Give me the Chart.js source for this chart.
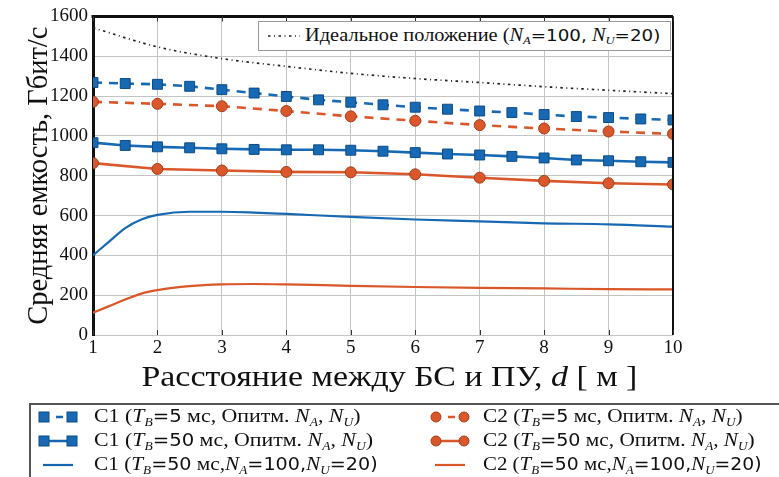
<!DOCTYPE html>
<html>
<head>
<meta charset="utf-8">
<script src="https://cdn.jsdelivr.net/npm/chart.js@4/dist/chart.umd.min.js"></script>
<style>
  html, body { margin: 0; padding: 0; background: #fff; }
  #wrap { position: relative; width: 779px; height: 477px; overflow: hidden; }
  #chart { position: absolute; left: 0; top: 0; }
  .legend { position: absolute; background: #fff; font-family: "Liberation Serif", "DejaVu Serif", serif; color: #111; }
  .row { position: absolute; white-space: nowrap; display: flex; align-items: center; }
  .row svg { flex: none; }
  .txt { display: inline-block; transform-origin: 0 50%; }
  .m { font-style: italic; }
  .m sub { font-size: 0.62em; vertical-align: -0.3em; }
  .n { font-family: "DejaVu Sans", sans-serif; font-size: 0.9em; }
  #topLegend { left: 258px; top: 21px; width: 411px; height: 28px; border: 1px solid #9a9a9a; font-size: 18px; }
  #bottomLegend { left: 29px; top: 403px; width: 800px; height: 100px; border-left: 2px solid #555; border-top: 2px solid #555; font-size: 19px; }
  #xTitle { position: absolute; left: 0; width: 779px; top: 359px; text-align: center; font-family: "Liberation Serif", serif; font-size: 30px; color: #111; white-space: nowrap; }
  #xTitle span.t { display: inline-block; transform: scaleX(1.13); }
</style>
</head>
<body>
<div id="wrap">
  <canvas id="chart" width="779" height="477"></canvas>

  <div id="xTitle"><span class="t">Расстояние между БС и ПУ, <i>d</i> [ м ]</span></div>

  <div id="topLegend" class="legend">
    <div class="row" style="left:7px; top:3px;">
      <svg width="36" height="20"><line x1="2" y1="10" x2="34" y2="10" stroke="#222" stroke-width="1.7" stroke-dasharray="2.5 3.5 1 3.5"/></svg>
      <span class="txt" style="margin-left:3px; transform: scaleX(1.13)">Идеальное положение (<span class="m">N<sub>A</sub></span><span class="n">=100,</span> <span class="m">N<sub>U</sub></span><span class="n">=20)</span></span>
    </div>
  </div>

  <div id="bottomLegend" class="legend">
    <div class="row" style="left:6px; top:0px;">
      <svg width="42" height="20"><line x1="6" y1="10" x2="36" y2="10" stroke="#1565b0" stroke-width="2.5" stroke-dasharray="0 13 7 20"/><rect x="2" y="5" width="10" height="10" fill="#1769b3" stroke="#0d4c86" stroke-width="1"/><rect x="30" y="5" width="10" height="10" fill="#1769b3" stroke="#0d4c86" stroke-width="1"/></svg>
      <span class="txt" style="margin-left:15px; transform: scaleX(1.15)">C1 (<span class="m">T<sub>B</sub></span><span class="n">=5</span> мс, Опитм. <span class="m">N<sub>A</sub></span>, <span class="m">N<sub>U</sub></span>)</span>
    </div>
    <div class="row" style="left:6px; top:24px;">
      <svg width="42" height="20"><line x1="6" y1="10" x2="36" y2="10" stroke="#1565b0" stroke-width="2.5"/><rect x="2" y="5" width="10" height="10" fill="#1769b3" stroke="#0d4c86" stroke-width="1"/><rect x="30" y="5" width="10" height="10" fill="#1769b3" stroke="#0d4c86" stroke-width="1"/></svg>
      <span class="txt" style="margin-left:15px; transform: scaleX(1.15)">C1 (<span class="m">T<sub>B</sub></span><span class="n">=50</span> мс, Опитм. <span class="m">N<sub>A</sub></span>, <span class="m">N<sub>U</sub></span>)</span>
    </div>
    <div class="row" style="left:6px; top:48px;">
      <svg width="42" height="20"><line x1="6" y1="10" x2="36" y2="10" stroke="#1565b0" stroke-width="2.2"/></svg>
      <span class="txt" style="margin-left:15px; transform: scaleX(1.12)">C1 (<span class="m">T<sub>B</sub></span><span class="n">=50</span> мс,<span class="m">N<sub>A</sub></span><span class="n">=100,</span><span class="m">N<sub>U</sub></span><span class="n">=20)</span></span>
    </div>
    <div class="row" style="left:398px; top:0px;">
      <svg width="42" height="20"><line x1="6" y1="10" x2="36" y2="10" stroke="#d9572a" stroke-width="2.5" stroke-dasharray="0 13 7 20"/><circle cx="7" cy="10" r="5" fill="#d9572a" stroke="#a63d18" stroke-width="1"/><circle cx="35" cy="10" r="5" fill="#d9572a" stroke="#a63d18" stroke-width="1"/></svg>
      <span class="txt" style="margin-left:12px; transform: scaleX(1.12)">C2 (<span class="m">T<sub>B</sub></span><span class="n">=5</span> мс, Опитм. <span class="m">N<sub>A</sub></span>, <span class="m">N<sub>U</sub></span>)</span>
    </div>
    <div class="row" style="left:398px; top:24px;">
      <svg width="42" height="20"><line x1="6" y1="10" x2="36" y2="10" stroke="#d9572a" stroke-width="2.5"/><circle cx="7" cy="10" r="5" fill="#d9572a" stroke="#a63d18" stroke-width="1"/><circle cx="35" cy="10" r="5" fill="#d9572a" stroke="#a63d18" stroke-width="1"/></svg>
      <span class="txt" style="margin-left:12px; transform: scaleX(1.12)">C2 (<span class="m">T<sub>B</sub></span><span class="n">=50</span> мс, Опитм. <span class="m">N<sub>A</sub></span>, <span class="m">N<sub>U</sub></span>)</span>
    </div>
    <div class="row" style="left:398px; top:48px;">
      <svg width="42" height="20"><line x1="6" y1="10" x2="36" y2="10" stroke="#d9572a" stroke-width="2.2"/></svg>
      <span class="txt" style="margin-left:12px; transform: scaleX(1.1)">C2 (<span class="m">T<sub>B</sub></span><span class="n">=50</span> мс,<span class="m">N<sub>A</sub></span><span class="n">=100,</span><span class="m">N<sub>U</sub></span><span class="n">=20)</span></span>
    </div>
  </div>
</div>

<script>
// Distance between base station and user, metres
const distInt  = [1, 2, 3, 4, 5, 6, 7, 8, 9, 10];
const distHalf = [1, 1.5, 2, 2.5, 3, 3.5, 4, 4.5, 5, 5.5, 6, 6.5, 7, 7.5, 8, 8.5, 9, 9.5, 10];
const distFine = [1, 1.25, 1.5, 1.75, 2, 2.5, 3, 3.5, 4, 5, 6, 7, 8, 9, 10];

// Average capacity, Gbit/s
const idealNA100 = [1543, 1447, 1388, 1349, 1314, 1288, 1268, 1247, 1229, 1212];
const c1Opt5  = [1268, 1263, 1259, 1249, 1232, 1215, 1198, 1181, 1169, 1156, 1144, 1134, 1125, 1117, 1107, 1097, 1092, 1085, 1080];
const c2Opt5  = [1171, 1161, 1149, 1125, 1098, 1076, 1054, 1037, 1022, 1010];
const c1Opt50 = [966, 952, 945, 940, 935, 932, 930, 930, 928, 923, 916, 909, 904, 897, 889, 879, 875, 870, 867];
const c2Opt50 = [863, 834, 826, 819, 817, 807, 790, 774, 762, 756];
const c1Fixed50 = [400, 469, 537, 580, 603, 619, 619, 615, 608, 593, 580, 571, 561, 556, 544];
const c2Fixed50 = [112, 145, 178, 208, 225, 245, 254, 256, 254, 247, 241, 237, 234, 230, 229];

// Axis ticks
const xTicks = [1, 2, 3, 4, 5, 6, 7, 8, 9, 10];
const yTicks = [0, 200, 400, 600, 800, 1000, 1200, 1400, 1600];

const BLUE = '#1769b3', BLUE_EDGE = '#0d4c86';
const RED = '#d9572a', RED_EDGE = '#a63d18';
const SERIF = "'Liberation Serif', 'Times New Roman', serif";

Chart.defaults.font.family = SERIF;

const pts = (xs, ys) => xs.map((x, i) => ({ x, y: ys[i] }));

// Frame on top/right edges plus short inward ticks
const framePlugin = {
  id: 'frame',
  afterDatasetsDraw(chart) {
    const { ctx, chartArea: a, scales: { x } } = chart;
    ctx.save();
    ctx.strokeStyle = '#111';
    ctx.lineWidth = 3;
    ctx.beginPath();
    ctx.moveTo(a.left - 1.5, a.top);
    ctx.lineTo(a.right, a.top);
    ctx.stroke();
    ctx.lineWidth = 2;
    ctx.beginPath();
    ctx.moveTo(a.right, a.top);
    ctx.lineTo(a.right, a.bottom);
    ctx.stroke();
    ctx.lineWidth = 1;
    ctx.strokeStyle = '#333';
    xTicks.forEach(v => {
      const px = Math.round(x.getPixelForValue(v)) + 0.5;
      ctx.beginPath();
      ctx.moveTo(px, a.bottom); ctx.lineTo(px, a.bottom - 5);
      ctx.moveTo(px, a.top); ctx.lineTo(px, a.top + 5);
      ctx.stroke();
    });
    ctx.restore();
  }
};

new Chart(document.getElementById('chart'), {
  type: 'line',
  data: {
    datasets: [
      {
        label: 'Идеальное положение (NA=100, NU=20)',
        data: pts(distInt, idealNA100),
        borderColor: '#222', borderWidth: 1.7, borderDash: [2.5, 3.5, 1, 3.5],
        pointRadius: 0, cubicInterpolationMode: 'monotone'
      },
      {
        label: 'C1 (TB=5 мс, Опитм. NA, NU)',
        data: pts(distHalf, c1Opt5),
        borderColor: BLUE, borderWidth: 2.6, borderDash: [9, 7],
        pointStyle: 'rect', pointRadius: 7, pointBackgroundColor: BLUE,
        pointBorderColor: BLUE_EDGE, pointBorderWidth: 1, tension: 0
      },
      {
        label: 'C2 (TB=5 мс, Опитм. NA, NU)',
        data: pts(distInt, c2Opt5),
        borderColor: RED, borderWidth: 2.6, borderDash: [9, 7],
        pointStyle: 'circle', pointRadius: 5.5, pointBackgroundColor: RED,
        pointBorderColor: RED_EDGE, pointBorderWidth: 1, tension: 0
      },
      {
        label: 'C1 (TB=50 мс, Опитм. NA, NU)',
        data: pts(distHalf, c1Opt50),
        borderColor: BLUE, borderWidth: 2.6,
        pointStyle: 'rect', pointRadius: 7, pointBackgroundColor: BLUE,
        pointBorderColor: BLUE_EDGE, pointBorderWidth: 1, tension: 0
      },
      {
        label: 'C2 (TB=50 мс, Опитм. NA, NU)',
        data: pts(distInt, c2Opt50),
        borderColor: RED, borderWidth: 2.6,
        pointStyle: 'circle', pointRadius: 5.5, pointBackgroundColor: RED,
        pointBorderColor: RED_EDGE, pointBorderWidth: 1, tension: 0
      },
      {
        label: 'C1 (TB=50 мс, NA=100, NU=20)',
        data: pts(distFine, c1Fixed50),
        borderColor: BLUE, borderWidth: 2.2, pointRadius: 0,
        cubicInterpolationMode: 'monotone'
      },
      {
        label: 'C2 (TB=50 мс, NA=100, NU=20)',
        data: pts(distFine, c2Fixed50),
        borderColor: RED, borderWidth: 2.2, pointRadius: 0,
        cubicInterpolationMode: 'monotone'
      }
    ]
  },
  options: {
    responsive: false,
    animation: false,
    devicePixelRatio: 1,
    layout: { padding: { left: 0, top: 16, right: 106, bottom: 82 } },
    plugins: { legend: { display: false }, tooltip: { enabled: false } },
    scales: {
      x: {
        type: 'linear', min: 1, max: 10,
        afterFit: s => { s.height = 60; },
        afterBuildTicks: s => { s.ticks = xTicks.map(v => ({ value: v })); },
        grid: { color: '#c4c4c4', lineWidth: 1, drawTicks: false },
        border: { display: false },
        ticks: {
          padding: 2, color: '#111', font: { family: SERIF, size: 19 },
          callback: v => String(v)
        }
      },
      y: {
        min: 0, max: 1600,
        afterFit: s => { s.width = 93; },
        afterBuildTicks: s => { s.ticks = yTicks.map(v => ({ value: v })); },
        grid: { color: '#c4c4c4', lineWidth: 1, drawTicks: false },
        border: { display: true, color: '#111', width: 3 },
        ticks: {
          padding: 5, color: '#111', font: { family: SERIF, size: 19 },
          callback: v => String(v)
        },
        title: {
          display: true, text: 'Средняя емкость, Гбит/с',
          color: '#111', font: { family: SERIF, size: 28.5 },
          padding: { top: 22, bottom: 0 }
        }
      }
    }
  },
  plugins: [framePlugin]
});
</script>
</body>
</html>
